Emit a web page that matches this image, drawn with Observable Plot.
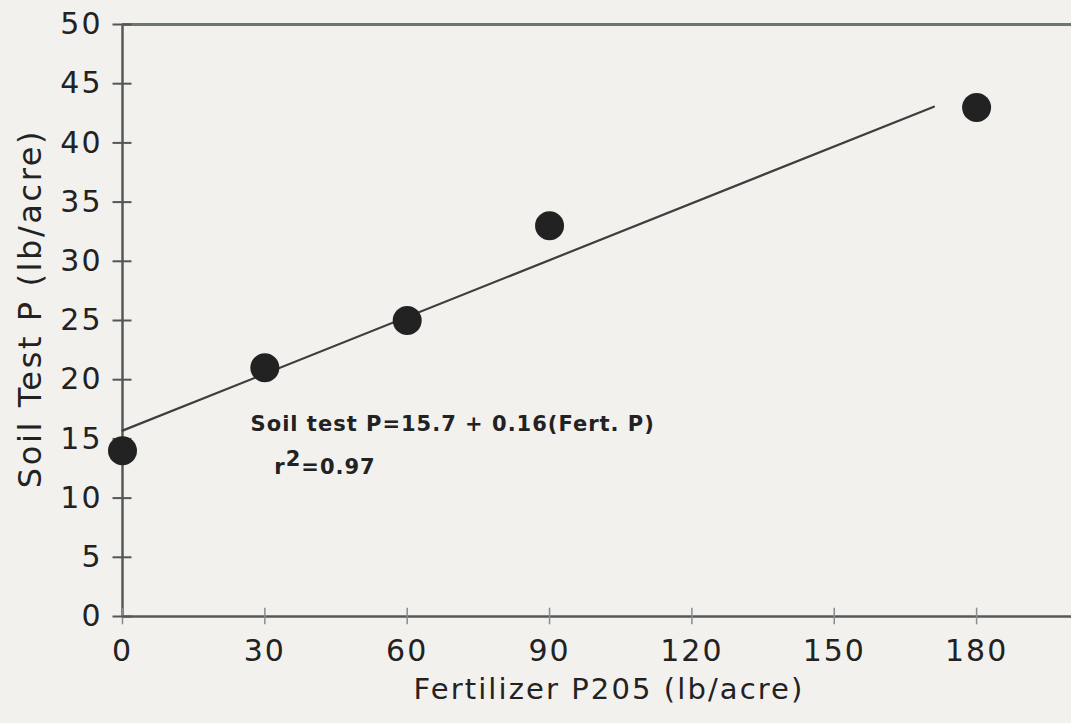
<!DOCTYPE html>
<html>
<head>
<meta charset="utf-8">
<script src="https://cdn.jsdelivr.net/npm/d3@7"></script>
<script src="https://cdn.jsdelivr.net/npm/@observablehq/plot@0.6"></script>
<style>
  html, body { margin: 0; padding: 0; background: #f2f1ee; }
  #chart svg { display: block; }
</style>
</head>
<body>
<div id="chart"></div>
<script>
// ---- data ----
const fertP = [0, 30, 60, 90, 180];          // Fertilizer P2O5 (lb/acre)
const soilP = [14, 21, 25, 33, 43];          // Soil test P (lb/acre)
const fitIntercept = 15.7;
const fitSlope = 0.16;
const fitRange = [0, 171];                   // extent of the drawn regression line
const xTicks = [0, 30, 60, 90, 120, 150, 180];
const yTicks = [0, 5, 10, 15, 20, 25, 30, 35, 40, 45, 50];
const equationText = "Soil test P=15.7 + 0.16(Fert. P)";
const r2Text = "r2=0.97";
const xLabel = "Fertilizer P205 (lb/acre)";
const yLabel = "Soil Test P (lb/acre)";

const points = fertP.map((x, i) => ({x, y: soilP[i]}));
const fitLine = fitRange.map(x => ({x, y: fitIntercept + fitSlope * x}));

const ink = "#222222";
const axisInk = "#555a58";
const font = "'DejaVu Sans', sans-serif";

const chart = Plot.plot({
  width: 1071,
  height: 723,
  marginLeft: 122,
  marginRight: 0,
  marginTop: 24,
  marginBottom: 107,
  style: {background: "#f2f1ee", fontFamily: font, color: ink},
  x: {domain: [0, 200]},
  y: {domain: [0, 50]},
  marks: [
    // axes lines
    Plot.ruleY([0], {x1: 0, x2: 200, stroke: axisInk, strokeWidth: 2.5}),
    Plot.ruleX([0], {y1: 0, y2: 50, stroke: axisInk, strokeWidth: 2.5}),
    Plot.ruleY([50], {x1: 0, x2: 200, stroke: "#6b7770", strokeWidth: 3}),
    // tick marks
    Plot.ruleX(xTicks, {x: d => d, y1: -0.7, y2: 0.7, stroke: "#8a8d8a", strokeWidth: 1.5}),
    Plot.ruleY(yTicks, {y: d => d, x1: -2, x2: 2, stroke: "#555", strokeWidth: 2}),
    // tick labels
    Plot.axisX({ticks: xTicks, tickSize: 0, tickPadding: 23, fontSize: 30, label: null, tickFormat: d => String(d), fill: ink}),
    Plot.axisY({ticks: yTicks, tickSize: 0, tickPadding: 20, fontSize: 30, label: null, tickFormat: d => String(d), fill: ink}),
    // regression line
    Plot.line(fitLine, {x: "x", y: "y", stroke: "#3c3f3e", strokeWidth: 2.2}),
    // data points
    Plot.dot(points, {x: "x", y: "y", r: 14.5, fill: ink, stroke: "none"}),
    // equation
    Plot.text([equationText], {x: 27, y: 16.2, text: d => d, textAnchor: "start", fontSize: 21, fontWeight: "bold", fill: ink}),
    Plot.text([r2Text], {x: 32, y: 12.6, text: d => d, textAnchor: "start", fontSize: 21, fontWeight: "bold", fill: ink}),
    // axis titles
    Plot.text([yLabel], {frameAnchor: "left", textAnchor: "middle", dx: -92, dy: -12, rotate: -90, text: d => d, fontSize: 32, fill: ink}),
    Plot.text([xLabel], {frameAnchor: "bottom", dx: 12, dy: 82, text: d => d, fontSize: 29, fill: ink})
  ]
});
document.getElementById("chart").appendChild(chart);
const svg = d3.select(chart);
// wide lettering like the original typeface
svg.selectAll("text").filter(function() { return this.textContent === xLabel; }).attr("letter-spacing", "2.1px");
svg.selectAll("text").filter(function() { return this.textContent === yLabel; }).attr("letter-spacing", "2.6px");
svg.selectAll("text").filter(function() { return this.textContent === equationText; }).attr("letter-spacing", "1px");
svg.selectAll("[aria-label^='x-axis tick label'] text, [aria-label^='y-axis tick label'] text").attr("letter-spacing", "2px");
// superscript in r2
svg.selectAll("text").filter(function() { return this.textContent === r2Text; }).each(function() {
  const t = d3.select(this).attr("letter-spacing", "1px");
  t.text(null);
  t.append("tspan").text("r");
  t.append("tspan").attr("dy", "-0.4em").text("2");
  t.append("tspan").attr("dy", "0.4em").text("=0.97");
});
</script>
</body>
</html>
